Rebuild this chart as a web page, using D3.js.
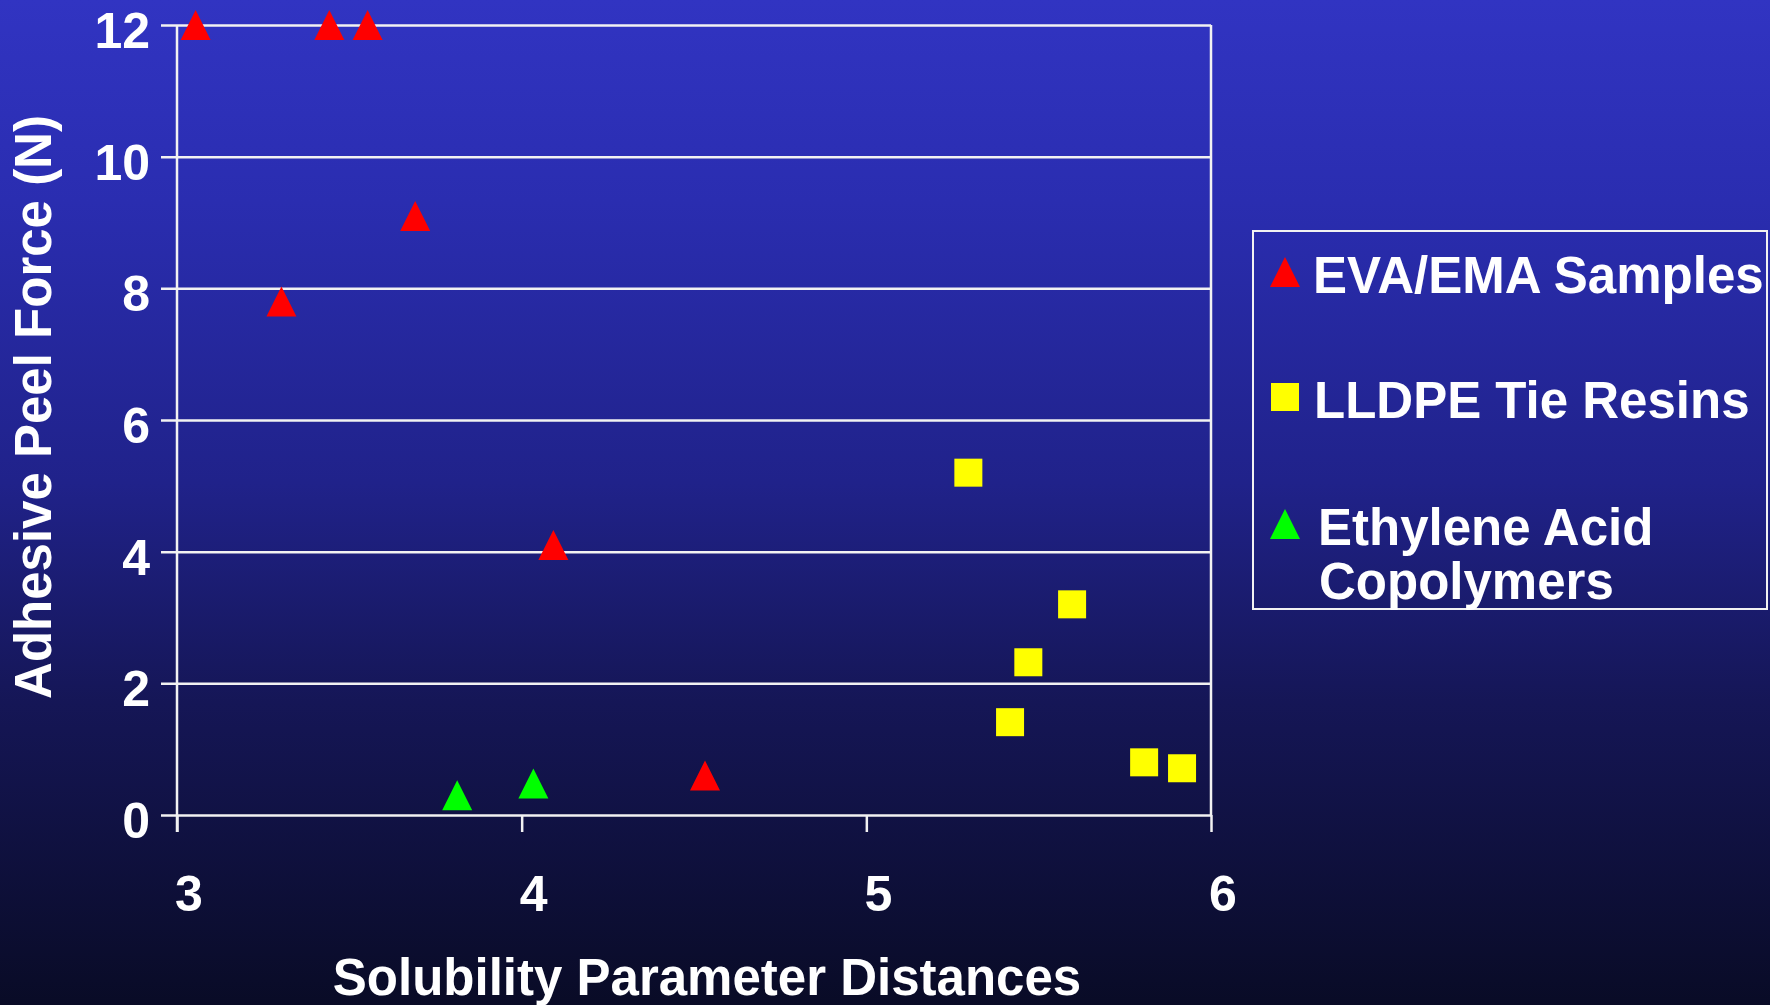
<!DOCTYPE html>
<html>
<head>
<meta charset="utf-8">
<script src="https://cdn.jsdelivr.net/npm/d3@7"></script>
<style>
  html, body { margin: 0; padding: 0; overflow: hidden; }
  body { width: 1770px; height: 1005px; }
  text { font-family: "Liberation Sans", Arial, sans-serif; font-weight: bold; fill: #fff; }
</style>
</head>
<body>
<script>
// data
const evaX = [3.054, 3.442, 3.553, 3.691, 3.303, 4.092, 4.532];
const evaY = [12, 12, 12, 9.1, 7.8, 4.1, 0.6];
const lldpeX = [5.296, 5.597, 5.47, 5.417, 5.806, 5.916];
const lldpeY = [5.2, 3.2, 2.32, 1.41, 0.8, 0.71];
const acidX = [3.813, 4.034];
const acidY = [0.3, 0.48];
const xTicks = [3, 4, 5, 6];
const yTicks = [0, 2, 4, 6, 8, 10, 12];
const legendLabels = [["EVA/EMA Samples"], ["LLDPE Tie Resins"], ["Ethylene Acid", "Copolymers"]];

const W = 1770, H = 1005;
const margin = { top: 25, left: 177, right: 559, bottom: 190 };

const svg = d3.select("body").append("svg")
  .attr("width", W).attr("height", H);

// background gradient
const grad = svg.append("defs").append("linearGradient")
  .attr("id", "bg").attr("x1", 0).attr("y1", 0).attr("x2", 0).attr("y2", 1);
grad.append("stop").attr("offset", "0%").attr("stop-color", "#3134c2");
grad.append("stop").attr("offset", "20%").attr("stop-color", "#2a2db0");
grad.append("stop").attr("offset", "48%").attr("stop-color", "#20228a");
grad.append("stop").attr("offset", "70%").attr("stop-color", "#151656");
grad.append("stop").attr("offset", "100%").attr("stop-color", "#090b26");
svg.append("rect").attr("width", W).attr("height", H).attr("fill", "url(#bg)");

const x = d3.scaleLinear().domain([3, 6]).range([margin.left, W - margin.right]);
const y = d3.scaleLinear().domain([0, 12]).range([H - margin.bottom, margin.top]);

// horizontal gridlines + y ticks
svg.append("g")
  .attr("transform", `translate(${x(6)},0)`)
  .call(d3.axisLeft(y).tickValues(yTicks).tickSize(x(6) - x(3) + 16).tickFormat(""))
  .call(g => g.select(".domain").remove())
  .call(g => g.selectAll("line").attr("stroke", "#f2f2f2").attr("stroke-width", 2.5));

// y tick labels
svg.append("g").selectAll("text")
  .data(yTicks).join("text")
  .attr("x", 150).attr("y", d => y(d) + 23)
  .attr("text-anchor", "end")
  .style("font-size", "50px")
  .text(d => d);

// x axis with downward ticks
svg.append("g")
  .attr("transform", `translate(0,${y(0)})`)
  .call(d3.axisBottom(x).tickValues(xTicks).tickSize(17).tickFormat(""))
  .call(g => g.select(".domain").remove())
  .call(g => g.selectAll("line").attr("stroke", "#f2f2f2").attr("stroke-width", 2.5));

svg.append("g").selectAll("text")
  .data(xTicks).join("text")
  .attr("x", d => x(d) + 12).attr("y", y(0) + 96)
  .attr("text-anchor", "middle")
  .style("font-size", "50px")
  .text(d => d);

// plot left / right borders
svg.append("line").attr("x1", x(3)).attr("x2", x(3))
  .attr("y1", y(12)).attr("y2", y(0) + 17)
  .attr("stroke", "#f2f2f2").attr("stroke-width", 2.5);
svg.append("line").attr("x1", x(6)).attr("x2", x(6))
  .attr("y1", y(12)).attr("y2", y(0))
  .attr("stroke", "#f2f2f2").attr("stroke-width", 2.5);

// axis titles
svg.append("text")
  .attr("transform", `translate(51,${(y(0) + y(12)) / 2 - 13}) rotate(-90)`)
  .attr("text-anchor", "middle")
  .style("font-size", "51px")
  .text("Adhesive Peel Force (N)");

svg.append("text")
  .attr("x", 707).attr("y", 995)
  .attr("text-anchor", "middle")
  .style("font-size", "51px")
  .text("Solubility Parameter Distances");

// markers
const tri = "M0,-15L15,15L-15,15Z";
const zip = (xs, ys) => xs.map((v, i) => ({ x: v, y: ys[i] }));

svg.append("g").selectAll("path")
  .data(zip(evaX, evaY)).join("path")
  .attr("transform", d => `translate(${x(d.x)},${y(d.y)})`)
  .attr("d", tri).attr("fill", "#ff0000");

svg.append("g").selectAll("path")
  .data(zip(acidX, acidY)).join("path")
  .attr("transform", d => `translate(${x(d.x)},${y(d.y)})`)
  .attr("d", tri).attr("fill", "#00ff00");

svg.append("g").selectAll("rect")
  .data(zip(lldpeX, lldpeY)).join("rect")
  .attr("x", d => x(d.x) - 14).attr("y", d => y(d.y) - 14)
  .attr("width", 28).attr("height", 28)
  .attr("fill", "#ffff00");

// legend
const legend = svg.append("g");
legend.append("rect")
  .attr("x", 1253).attr("y", 231).attr("width", 514).attr("height", 378)
  .attr("fill", "none").attr("stroke", "#f2f2f2").attr("stroke-width", 2);

const legY = [272, 397, 524];
const legX = [1313, 1314, 1318];
const legSym = [
  g => g.append("path").attr("d", tri).attr("fill", "#ff0000"),
  g => g.append("rect").attr("x", -14).attr("y", -14).attr("width", 28).attr("height", 28).attr("fill", "#ffff00"),
  g => g.append("path").attr("d", tri).attr("fill", "#00ff00")
];
legendLabels.forEach((lines, i) => {
  const g = legend.append("g").attr("transform", `translate(1285,${legY[i]})`);
  legSym[i](g);
  lines.forEach((t, j) => {
    legend.append("text")
      .attr("x", legX[i] + (j ? 1 : 0)).attr("y", legY[i] + 21 + j * 54)
      .style("font-size", "51px")
      .text(t);
  });
});
</script>
</body>
</html>
